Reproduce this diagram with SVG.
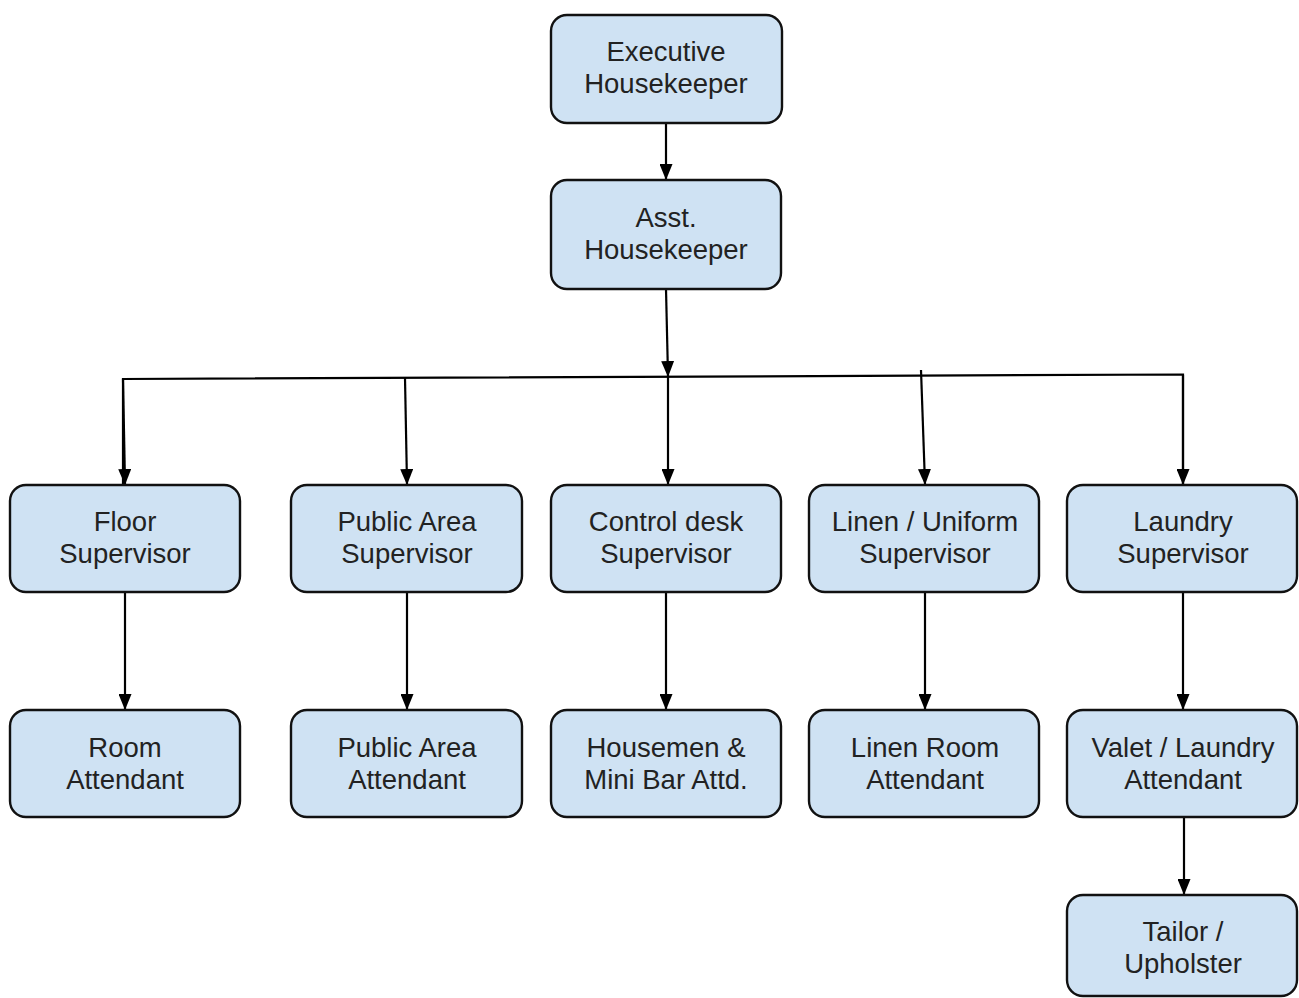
<svg xmlns="http://www.w3.org/2000/svg" width="1299" height="998" viewBox="0 0 1299 998">
<style>
.box{fill:#cfe2f3;stroke:#111;stroke-width:2.4}
.lbl{font-family:"Liberation Sans",Arial,sans-serif;font-size:27.5px;fill:#222;text-anchor:middle}
.con{stroke:#000;stroke-width:2.2;fill:none}
</style>
<defs>
<marker id="ah" markerWidth="16" markerHeight="13" refX="15" refY="6.5" orient="auto" markerUnits="userSpaceOnUse" viewBox="0 0 16 13">
<path d="M0,0 L16,6.5 L0,13 Z" fill="#000"/>
</marker>
</defs>
<rect width="1299" height="998" fill="#fff"/>
<g id="connectors">
<line class="con" x1="666" y1="123" x2="666" y2="179" marker-end="url(#ah)"/>
<line class="con" x1="666" y1="289" x2="668" y2="376" marker-end="url(#ah)"/>
<polyline class="con" points="123,485 123,379 1183,374.5 1183,484"/>
<line class="con" x1="123" y1="379" x2="125" y2="484" marker-end="url(#ah)"/>
<line class="con" x1="405" y1="378" x2="407" y2="484" marker-end="url(#ah)"/>
<line class="con" x1="668" y1="377" x2="668" y2="484" marker-end="url(#ah)"/>
<line class="con" x1="921" y1="370" x2="925" y2="484" marker-end="url(#ah)"/>
<line class="con" x1="1183" y1="375" x2="1183" y2="484" marker-end="url(#ah)"/>
<line class="con" x1="125" y1="592" x2="125" y2="709" marker-end="url(#ah)"/>
<line class="con" x1="407" y1="592" x2="407" y2="709" marker-end="url(#ah)"/>
<line class="con" x1="666" y1="592" x2="666" y2="709" marker-end="url(#ah)"/>
<line class="con" x1="925" y1="592" x2="925" y2="709" marker-end="url(#ah)"/>
<line class="con" x1="1183" y1="592" x2="1183" y2="709" marker-end="url(#ah)"/>
<line class="con" x1="1184" y1="817" x2="1184" y2="894" marker-end="url(#ah)"/>
</g>
<g id="exec"><rect class="box" x="551" y="15" width="231" height="108" rx="16"/><text class="lbl" x="666" y="61">Executive</text><text class="lbl" x="666" y="93">Housekeeper</text></g>
<g id="asst"><rect class="box" x="551" y="180" width="230" height="109" rx="16"/><text class="lbl" x="666" y="227">Asst.</text><text class="lbl" x="666" y="259">Housekeeper</text></g>
<g id="floor-sup"><rect class="box" x="10" y="485" width="230" height="107" rx="16"/><text class="lbl" x="125" y="531">Floor</text><text class="lbl" x="125" y="563">Supervisor</text></g>
<g id="pa-sup"><rect class="box" x="291" y="485" width="231" height="107" rx="16"/><text class="lbl" x="407" y="531">Public Area</text><text class="lbl" x="407" y="563">Supervisor</text></g>
<g id="cd-sup"><rect class="box" x="551" y="485" width="230" height="107" rx="16"/><text class="lbl" x="666" y="531">Control desk</text><text class="lbl" x="666" y="563">Supervisor</text></g>
<g id="linen-sup"><rect class="box" x="809" y="485" width="230" height="107" rx="16"/><text class="lbl" x="925" y="531">Linen / Uniform</text><text class="lbl" x="925" y="563">Supervisor</text></g>
<g id="laundry-sup"><rect class="box" x="1067" y="485" width="230" height="107" rx="16"/><text class="lbl" x="1183" y="531">Laundry</text><text class="lbl" x="1183" y="563">Supervisor</text></g>
<g id="room-att"><rect class="box" x="10" y="710" width="230" height="107" rx="16"/><text class="lbl" x="125" y="757">Room</text><text class="lbl" x="125" y="789">Attendant</text></g>
<g id="pa-att"><rect class="box" x="291" y="710" width="231" height="107" rx="16"/><text class="lbl" x="407" y="757">Public Area</text><text class="lbl" x="407" y="789">Attendant</text></g>
<g id="housemen"><rect class="box" x="551" y="710" width="230" height="107" rx="16"/><text class="lbl" x="666" y="757">Housemen &amp;</text><text class="lbl" x="666" y="789">Mini Bar Attd.</text></g>
<g id="linen-att"><rect class="box" x="809" y="710" width="230" height="107" rx="16"/><text class="lbl" x="925" y="757">Linen Room</text><text class="lbl" x="925" y="789">Attendant</text></g>
<g id="valet"><rect class="box" x="1067" y="710" width="230" height="107" rx="16"/><text class="lbl" x="1183" y="757">Valet / Laundry</text><text class="lbl" x="1183" y="789">Attendant</text></g>
<g id="tailor"><rect class="box" x="1067" y="895" width="230" height="101" rx="16"/><text class="lbl" x="1183" y="941">Tailor /</text><text class="lbl" x="1183" y="973">Upholster</text></g>
</svg>
